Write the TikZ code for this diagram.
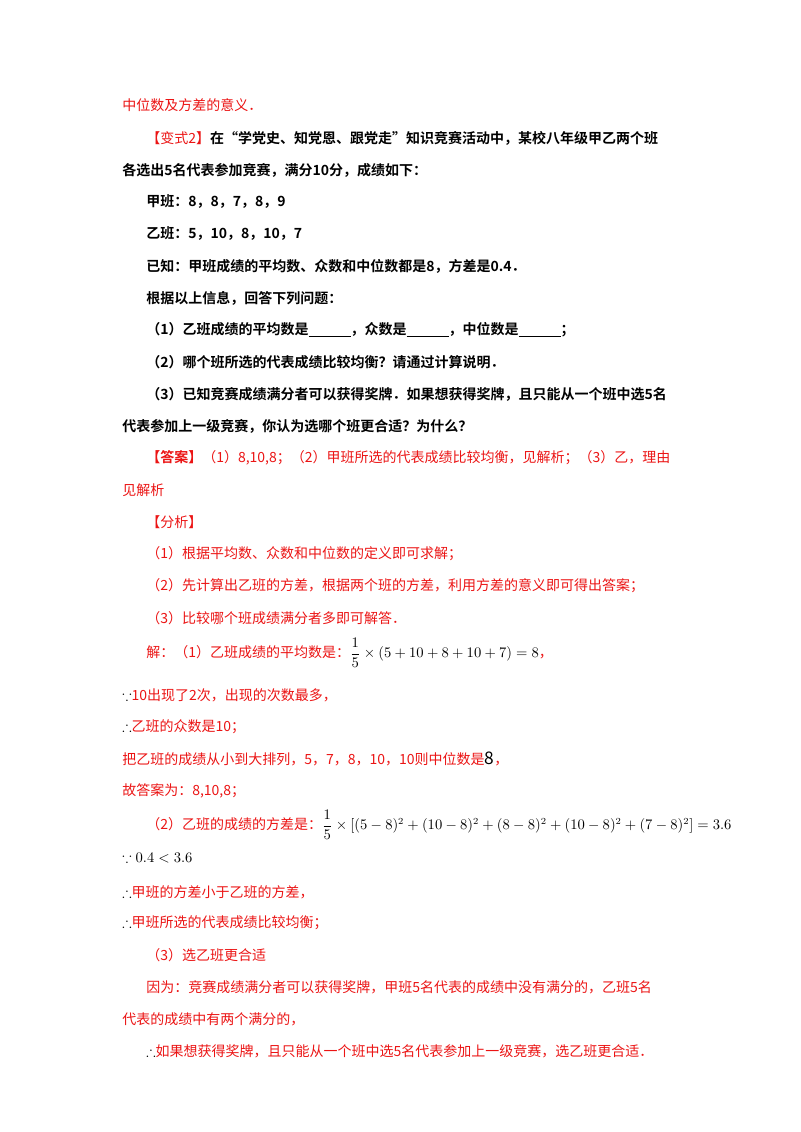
\documentclass[tikz,border=0pt]{standalone}
\usepackage{amsmath,amssymb}
\usepackage{fontspec}
\setmainfont{Liberation Serif}
\newfontfamily\cjk{Noto Sans CJK SC}
\newfontfamily\cjkb{Noto Sans CJK SC Bold}
\definecolor{ans}{RGB}{235,20,20}
\begin{document}
\begin{tikzpicture}[x=0.75pt,y=-0.75pt,
  tb/.style={anchor=west,inner sep=0pt,font=\cjkb\fontsize{10.5}{12}\selectfont},
  tr/.style={anchor=west,inner sep=0pt,text=ans,font=\cjk\fontsize{10.5}{12}\selectfont}]
\useasboundingbox (0,0) rectangle (800,1132);
\node[tr] (l1) at (122,105) {中位数及方差的意义．};
\node[tb] (l2) at (146,138) {\textcolor{ans}{\cjk【变式2】}在“学党史、知党恩、跟党走”知识竞赛活动中，某校八年级甲乙两个班};
\node[tb] (l3) at (122,170) {各选出5名代表参加竞赛，满分10分，成绩如下：};
\node[tb] (l4) at (146,202) {甲班：8，8，7，8，9};
\node[tb] (l5) at (146,234) {乙班：5，10，8，10，7};
\node[tb] (l6) at (146,266) {已知：甲班成绩的平均数、众数和中位数都是8，方差是0.4．};
\node[tb] (l7) at (146,298) {根据以上信息，回答下列问题：};
\node[tb] (l8) at (146,330) {（1）乙班成绩的平均数是\underline{\hspace{3em}}，众数是\underline{\hspace{3em}}，中位数是\underline{\hspace{3em}}；};
\node[tb] (l9) at (146,362) {（2）哪个班所选的代表成绩比较均衡？请通过计算说明．};
\node[tb] (l10) at (146,394) {（3）已知竞赛成绩满分者可以获得奖牌．如果想获得奖牌，且只能从一个班中选5名};
\node[tb] (l11) at (122,426) {代表参加上一级竞赛，你认为选哪个班更合适？为什么？};
\node[tr] (l12) at (146,458) {{\cjkb【答案】}（1）8,10,8；（2）甲班所选的代表成绩比较均衡，见解析；（3）乙，理由};
\node[tr] (l13) at (122,490) {见解析};
\node[tr] (l14) at (146,522) {【分析】};
\node[tr] (l15) at (146,554) {（1）根据平均数、众数和中位数的定义即可求解；};
\node[tr] (l16) at (146,586) {（2）先计算出乙班的方差，根据两个班的方差，利用方差的意义即可得出答案；};
\node[tr] (l17) at (146,618) {（3）比较哪个班成绩满分者多即可解答．};
\node[tr] (l18) at (146,653) {解：（1）乙班成绩的平均数是：\textcolor{black}{$\dfrac{1}{5}\times(5+10+8+10+7)=8$}，};
\node[tr] (l19) at (122,695) {\textcolor{black}{$\because$}10出现了2次，出现的次数最多，};
\node[tr] (l20) at (122,727) {\textcolor{black}{$\therefore$}乙班的众数是10；};
\node[tr] (l21) at (122,759) {把乙班的成绩从小到大排列，5，7，8，10，10则中位数是\textcolor{black}{\fontsize{13}{14}\selectfont 8}，};
\node[tr] (l22) at (122,791) {故答案为：8,10,8；};
\node[tr] (l23) at (146,825) {（2）乙班的成绩的方差是：\textcolor{black}{$\dfrac{1}{5}\times\left[(5-8)^2+(10-8)^2+(8-8)^2+(10-8)^2+(7-8)^2\right]=3.6$}};
\node[tr] (l24) at (122,858) {\textcolor{black}{$\because 0.4<3.6$}};
\node[tr] (l25) at (122,892) {\textcolor{black}{$\therefore$}甲班的方差小于乙班的方差，};
\node[tr] (l26) at (122,923) {\textcolor{black}{$\therefore$}甲班所选的代表成绩比较均衡；};
\node[tr] (l27) at (146,955) {（3）选乙班更合适};
\node[tr] (l28) at (146,987) {因为：竞赛成绩满分者可以获得奖牌，甲班5名代表的成绩中没有满分的，乙班5名};
\node[tr] (l29) at (122,1019) {代表的成绩中有两个满分的，};
\node[tr] (l30) at (146,1051) {\textcolor{black}{$\therefore$}如果想获得奖牌，且只能从一个班中选5名代表参加上一级竞赛，选乙班更合适．};
\end{tikzpicture}
\end{document}
